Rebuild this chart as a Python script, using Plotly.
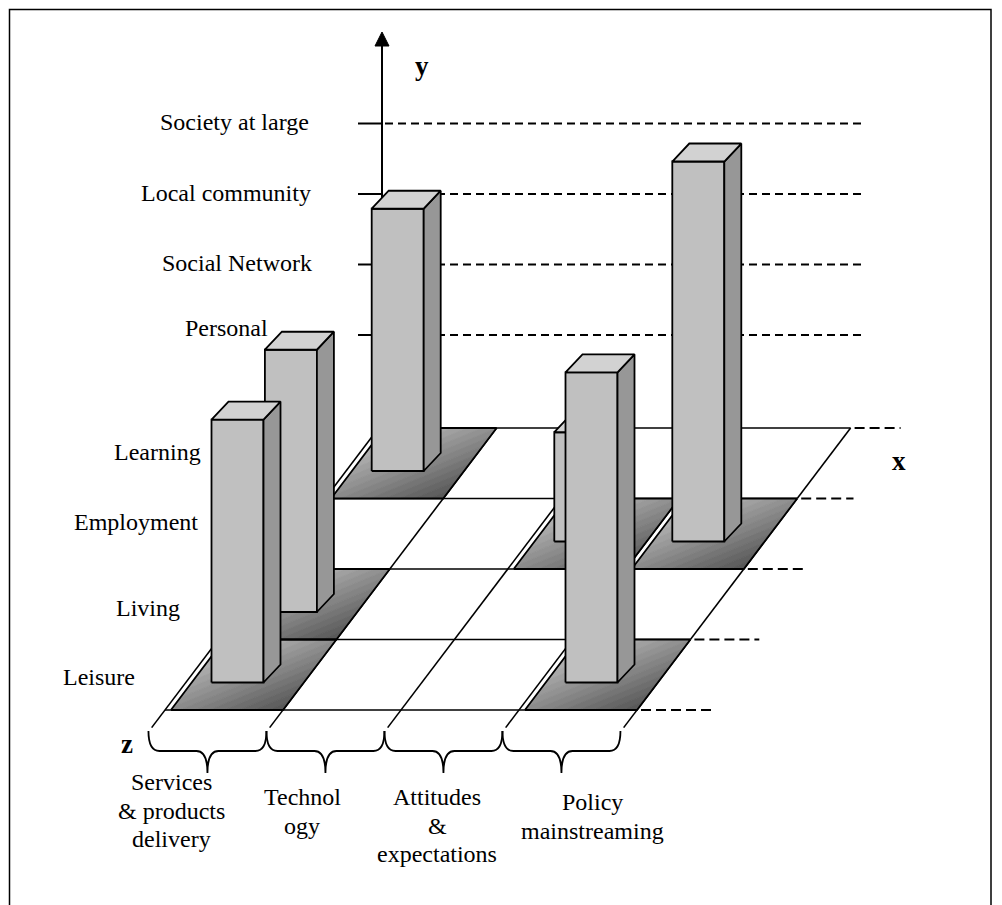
import plotly.graph_objects as go

# ------------------------------------------------------------------
# Categories
ROWS = ["Leisure", "Living", "Employment", "Learning"]          # z axis, front to back
COLUMNS = [["Services", "& products", "delivery"],
           ["Technol", "ogy"],
           ["Attitudes", "&", "expectations"],
           ["Policy", "mainstreaming"]]                           # x axis
LEVELS = ["Personal", "Social Network", "Local community", "Society at large"]  # y axis

# Bars: column index, row index, height (in y-level steps)
BAR_COLUMN = [0, 0, 0, 2, 3, 3]
BAR_ROW = [3, 1, 0, 2, 2, 0]
BAR_HEIGHT = [3.72, 3.72, 3.73, 1.55, 5.39, 4.40]

# ------------------------------------------------------------------
# Canvas / oblique projection settings
W, H = 1002, 905
X0, Y0 = 165.0, 710.0            # front-left corner of the floor
COL_W = 118.0                    # width of one x category
ROW_DX, ROW_DY = 53.4, -70.5     # screen shift of one z category (depth)
STEP = 70.5                      # screen size of one y-level step
LEVEL_ZERO = 405.5               # y-axis origin for the level ticks
AXIS_X = 382.0
AXIS_TOP = 32.0
DASH_END = 866.0
TICK_LEN = 24.0
BAR_W = 52.0
BOX_DX, BOX_DY = 17.0, -18.0     # depth offset of a bar box
BAR_OFFSET = (46.5, -27.5)       # bar front-left corner inside its cell
SHADE_INSET = 0.05               # left inset of a shaded cell (fraction of cell)
N_SHADES = 16

FONT = "Liberation Serif, Times New Roman, serif"
FONT_SIZE = 24
INK = "black"
FRONT, SIDE, TOP = "#c0c0c0", "#979797", "#d2d2d2"
SHADE_LIGHT, SHADE_DARK = 200, 85

LEVEL_LABEL_POS = [(270, 328), (314, 263), (313, 193), (311, 122)]
ROW_LABEL_POS = [(137, 677), (182, 608), (200, 522), (203, 452)]
COLUMN_LABEL_POS = [(171, 782), (302, 797), (437, 797), (592, 802)]
LINE_GAP = 28.5
AXIS_LETTERS = [("y", 422, 66), ("x", 899, 461), ("z", 127, 744)]

n_c, n_r = len(COLUMNS), len(ROWS)


def floor_pt(c, r):
    """Project a floor position (column, row) to canvas coordinates."""
    return (X0 + c * COL_W + r * ROW_DX, Y0 + r * ROW_DY)


def polyline_trace(segments, width, color=INK, dash=None):
    xs, ys = [], []
    for seg in segments:
        xs += [p[0] for p in seg] + [None]
        ys += [p[1] for p in seg] + [None]
    return go.Scatter(x=xs, y=ys, mode="lines", hoverinfo="skip",
                      line=dict(color=color, width=width, dash=dash))


def polygon_trace(pts, fill, width=1.8, line_color=INK):
    xs = [p[0] for p in pts] + [pts[0][0]]
    ys = [p[1] for p in pts] + [pts[0][1]]
    return go.Scatter(x=xs, y=ys, mode="lines", fill="toself", fillcolor=fill,
                      hoverinfo="skip", line=dict(color=line_color, width=width))


def clip(poly, f):
    """Keep the part of a polygon where f(p) >= 0."""
    out = []
    for i in range(len(poly)):
        p, q = poly[i], poly[(i + 1) % len(poly)]
        fp, fq = f(p), f(q)
        if fp >= 0:
            out.append(p)
        if (fp >= 0) != (fq >= 0):
            t = fp / (fp - fq)
            out.append((p[0] + t * (q[0] - p[0]), p[1] + t * (q[1] - p[1])))
    return out


fig = go.Figure()

# ---- y-level dashed guides and ticks
level_y = [LEVEL_ZERO - STEP * (i + 1) for i in range(len(LEVELS))]
fig.add_trace(polyline_trace([[(AXIS_X + 3, y), (DASH_END, y)] for y in level_y],
                             2, dash="8px,5px"))
fig.add_trace(polyline_trace([[(AXIS_X - TICK_LEN, y), (AXIS_X, y)] for y in level_y], 2))

# ---- y axis with arrow head
fig.add_trace(polyline_trace([[(AXIS_X, AXIS_TOP + 12), (AXIS_X, LEVEL_ZERO + 30)]], 2))
fig.add_trace(polygon_trace([(AXIS_X - 7, AXIS_TOP + 14), (AXIS_X + 7, AXIS_TOP + 14),
                             (AXIS_X, AXIS_TOP)], INK, width=1))

# ---- floor grid
grid = []
for r in range(n_r + 1):
    grid.append([floor_pt(0, r), floor_pt(n_c, r)])
for c in range(n_c + 1):
    grid.append([floor_pt(c, n_r), floor_pt(c, -0.25)])
fig.add_trace(polyline_trace(grid, 1.6))

# dashed continuation of the row lines
ext = []
for r in range(n_r + 1):
    px, py = floor_pt(n_c, r)
    ext.append([(px + 4, py), (px + 50 + 6.3 * (n_r - r), py)])
fig.add_trace(polyline_trace(ext, 2, dash="10px,5px"))

# ---- shaded floor cells under the bars (diagonal gradient)
cells = sorted(set(zip(BAR_COLUMN, BAR_ROW)))
square = [(SHADE_INSET, 0.0), (1.0, 0.0), (1.0, 1.0), (SHADE_INSET, 1.0)]
for k in range(N_SHADES):
    lo, hi = k / N_SHADES, (k + 1) / N_SHADES
    band = clip(square, lambda p: (p[0] + 1 - p[1]) / 2 - lo)
    band = clip(band, lambda p: hi - (p[0] + 1 - p[1]) / 2)
    if len(band) < 3:
        continue
    g = round(SHADE_LIGHT + (SHADE_DARK - SHADE_LIGHT) * (k + 0.5) / N_SHADES)
    col = f"rgb({g},{g},{g})"
    xs, ys = [], []
    for c, r in cells:
        pts = [floor_pt(c + u, r + v) for u, v in band]
        xs += [p[0] for p in pts] + [pts[0][0], None]
        ys += [p[1] for p in pts] + [pts[0][1], None]
    fig.add_trace(go.Scatter(x=xs, y=ys, mode="lines", fill="toself", fillcolor=col,
                             hoverinfo="skip", line=dict(color=col, width=0.8)))
outline = []
for c, r in cells:
    pts = [floor_pt(c + u, r + v) for u, v in square]
    outline.append(pts + [pts[0]])
fig.add_trace(polyline_trace(outline, 1.8))

# ---- bars, drawn back to front
order = sorted(range(len(BAR_HEIGHT)), key=lambda i: (-BAR_ROW[i], BAR_COLUMN[i]))
for i in order:
    bx, by = floor_pt(BAR_COLUMN[i], BAR_ROW[i])
    x, y = bx + BAR_OFFSET[0], by + BAR_OFFSET[1]
    h = BAR_HEIGHT[i] * STEP
    front = [(x, y), (x + BAR_W, y), (x + BAR_W, y - h), (x, y - h)]
    side = [(x + BAR_W, y), (x + BAR_W + BOX_DX, y + BOX_DY),
            (x + BAR_W + BOX_DX, y + BOX_DY - h), (x + BAR_W, y - h)]
    top = [(x, y - h), (x + BAR_W, y - h), (x + BAR_W + BOX_DX, y - h + BOX_DY),
           (x + BOX_DX, y - h + BOX_DY)]
    fig.add_trace(polygon_trace(front, FRONT))
    fig.add_trace(polygon_trace(side, SIDE))
    fig.add_trace(polygon_trace(top, TOP))

# ---- braces under the x categories
for c in range(n_c):
    xl = floor_pt(c, -0.31)[0]
    xr = floor_pt(c + 1, -0.31)[0]
    xm = (xl + xr) / 2
    yt, yb, ytip, rr = 731, 751, 773, 11
    path = (f"M {xl},{yt} Q {xl},{yb} {xl + rr},{yb} L {xm - rr},{yb} "
            f"Q {xm},{yb} {xm},{ytip} Q {xm},{yb} {xm + rr},{yb} "
            f"L {xr - rr},{yb} Q {xr},{yb} {xr},{yt}")
    fig.add_shape(type="path", path=path, xref="x", yref="y",
                  line=dict(color=INK, width=1.8))

# ---- frame
fig.add_shape(type="rect", x0=9.5, y0=9.5, x1=991, y1=940, xref="x", yref="y",
              line=dict(color=INK, width=1.5))

# ---- text
def label(text, x, y, xanchor="center", bold=False, size=FONT_SIZE):
    fig.add_annotation(x=x, y=y, xref="x", yref="y", text=text, showarrow=False,
                       xanchor=xanchor, yanchor="middle",
                       font=dict(family=FONT, size=size, color=INK,
                                 weight="bold" if bold else "normal"))

for name, (x, y) in zip(LEVELS, LEVEL_LABEL_POS):
    label(name, x, y, xanchor="right")
for name, (x, y) in zip(ROWS, ROW_LABEL_POS):
    label(name, x, y, xanchor="right")
for lines, (x, y) in zip(COLUMNS, COLUMN_LABEL_POS):
    for j, line in enumerate(lines):
        label(line, x, y + j * LINE_GAP)
for letter, x, y in AXIS_LETTERS:
    label(letter, x, y, bold=True, size=27)

fig.update_layout(
    width=W, height=H, margin=dict(l=0, r=0, t=0, b=0),
    paper_bgcolor="white", plot_bgcolor="white", showlegend=False,
    hovermode=False, dragmode=False,
    xaxis=dict(range=[0, W], visible=False, fixedrange=True),
    yaxis=dict(range=[H, 0], visible=False, fixedrange=True),
)

fig.write_html("out.html", config={"displayModeBar": False, "staticPlot": True})
